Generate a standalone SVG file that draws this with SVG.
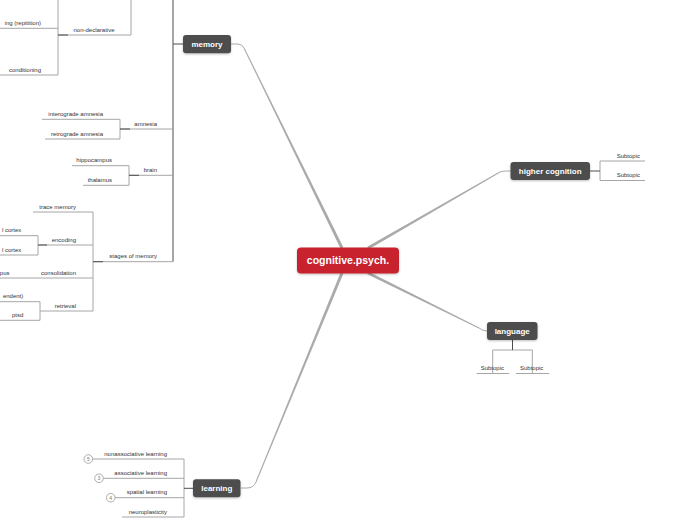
<svg xmlns="http://www.w3.org/2000/svg" width="697" height="520" viewBox="0 0 697 520">
<style>
.bg{fill:#ffffff}
.t{font-family:"Liberation Sans",Arial,sans-serif;font-size:6px;fill:#333333}
.e{text-anchor:end}
.nt{font-family:"Liberation Sans",Arial,sans-serif;font-size:8px;font-weight:bold;fill:#ffffff;text-anchor:middle}
.ct{font-family:"Liberation Sans",Arial,sans-serif;font-size:10.5px;font-weight:bold;fill:#ffffff;text-anchor:middle}
.ln{stroke:#a6a6a6;stroke-width:1;fill:none}
.dk{stroke:#4d4d4d;stroke-width:1;fill:none}
.br{fill:#aaaaaa;stroke:none}
.bc{stroke:#aaaaaa;stroke-width:1;fill:none}
.nd{fill:#4d4d4d}
.cn{fill:#c8202f}
.num{fill:#ffffff;stroke:#999999;stroke-width:0.8}
.nn{font-family:"Liberation Sans",Arial,sans-serif;font-size:5px;fill:#777777;text-anchor:middle}
</style>
<defs>
<filter id="sh" x="-20%" y="-30%" width="140%" height="170%">
<feDropShadow dx="0" dy="1" stdDeviation="0.8" flood-color="#000000" flood-opacity="0.25"/>
</filter>
</defs>
<rect class="bg" x="0" y="0" width="697" height="520"/>

<g id="connectors">
<!-- main branches -->
<polygon class="br" points="343.35,247.34 244.45,47.78 243.55,48.22 340.65,248.66"/>
<path class="bc" d="M231,44 L238,44 Q242,44 244,48"/>
<polygon class="br" points="343.39,273.57 256.46,482.19 255.54,481.81 340.61,272.43"/>
<path class="bc" d="M256,482 Q253.5,488 247,488 L241,488"/>
<polygon class="br" points="368.75,249.3 500.25,172.43 499.75,171.57 367.25,246.7"/>
<path class="bc" d="M500,172 Q503,171 506,171 L510.5,171"/>
<polygon class="br" points="367.33,274.34 478.78,328.45 479.22,327.55 368.67,271.66"/>
<path class="bc" d="M479,328 Q483,331 487,331"/>

<!-- memory spine -->
<path class="dk" d="M173,0 V261.7 M173,44 H183"/>
<!-- non-declarative -->
<path class="ln" d="M58,35 H131 V0 M58,0 V75 M0,28.3 H58 M0,75 H58"/>
<path class="dk" d="M58,35 H68"/>
<!-- amnesia -->
<path class="ln" d="M120,129 H173 M120,119.3 V139 M42,119.3 H120 M45,139 H120"/>
<path class="dk" d="M120,129 H130"/>
<!-- brain -->
<path class="ln" d="M129,175.3 H173 M129,165.7 V185.3 M72,165.7 H129 M83,185.3 H129"/>
<path class="dk" d="M129,175.3 H139"/>
<!-- stages of memory -->
<path class="ln" d="M93,261.7 H173 M93,212 V311 M33,212 H93 M38,245 H93 M0,278 H93 M40,311 H93"/>
<path class="dk" d="M93,261.7 H103"/>
<path class="ln" d="M38,235.7 V255 M0,235.7 H38 M0,255 H38"/>
<path class="dk" d="M38,245 H47"/>
<path class="ln" d="M40,301.7 V320.3 M0,301.7 H40 M0,320.3 H40"/>
<!-- higher cognition -->
<path class="ln" d="M600,161 V180.5 M600,161 H645 M600,180.5 H645"/>
<path class="dk" d="M590,171 H600"/>
<!-- language -->
<path class="ln" d="M492.7,350 H532.3 M492.7,350 V373.5 M532.3,350 V373.5 M476.7,373.5 H509.3 M516,373.5 H549.3"/>
<path class="dk" d="M512.5,340 V350"/>
<!-- learning -->
<path class="ln" d="M184,459 V517 M92.6,459 H184 M103.3,478.3 H184 M115,497.7 H184 M122,517 H184"/>
<path class="dk" d="M184,488.3 H193"/>
</g>

<g id="central">
<rect class="cn" x="297" y="247.5" width="102" height="26" rx="4" filter="url(#sh)"/>
<text class="ct" x="348" y="264.3">cognitive.psych.</text>
</g>

<g id="memory">
<rect class="nd" x="183" y="35" width="48" height="18.3" rx="3" filter="url(#sh)"/>
<text class="nt" x="207" y="47">memory</text>
</g>

<g id="higher-cognition">
<rect class="nd" x="510.5" y="162" width="79.5" height="18" rx="3" filter="url(#sh)"/>
<text class="nt" x="550.2" y="174">higher cognition</text>
</g>

<g id="language">
<rect class="nd" x="487" y="322" width="50.5" height="18" rx="3" filter="url(#sh)"/>
<text class="nt" x="512.2" y="334">language</text>
</g>

<g id="learning">
<rect class="nd" x="193" y="479.3" width="47.5" height="18" rx="3" filter="url(#sh)"/>
<text class="nt" x="216.8" y="491.3">learning</text>
</g>

<g id="memory-children">
<text class="t e" x="41" y="25">ing (repitition)</text>
<text class="t e" x="114.5" y="31.5">non-declarative</text>
<text class="t e" x="41" y="71.5">conditioning</text>
<text class="t e" x="103" y="115.8">interograde amnesia</text>
<text class="t e" x="103" y="135.5">retrograde amnesia</text>
<text class="t e" x="157" y="125.5">amnesia</text>
<text class="t e" x="112" y="162.2">hippocampus</text>
<text class="t e" x="112" y="181.8">thalamus</text>
<text class="t e" x="157" y="171.8">brain</text>
<text class="t e" x="76" y="208.5">trace memory</text>
<text class="t e" x="21.3" y="232.2">l cortex</text>
<text class="t e" x="76" y="241.5">encoding</text>
<text class="t e" x="21.3" y="251.5">l cortex</text>
<text class="t e" x="9.5" y="274.5">pus</text>
<text class="t e" x="76" y="274.5">consolidation</text>
<text class="t e" x="23.3" y="298.2">endent)</text>
<text class="t e" x="76" y="307.5">retrieval</text>
<text class="t e" x="23.3" y="316.8">ptsd</text>
<text class="t e" x="157" y="258.2">stages of memory</text>
</g>

<g id="higher-cognition-children">
<text class="t" x="616.7" y="157.5">Subtopic</text>
<text class="t" x="616.7" y="177">Subtopic</text>
</g>

<g id="language-children">
<text class="t" x="480.7" y="370.3">Subtopic</text>
<text class="t" x="520" y="370.3">Subtopic</text>
</g>

<g id="learning-children">
<text class="t e" x="167" y="455.5">nonassociative learning</text>
<text class="t e" x="167" y="474.8">associative learning</text>
<text class="t e" x="167" y="494.2">spatial learning</text>
<text class="t e" x="167" y="513.5">neuroplasticity</text>
<circle class="num" cx="88.3" cy="459" r="4.3"/>
<text class="nn" x="88.3" y="460.8">5</text>
<circle class="num" cx="99" cy="478.3" r="4.3"/>
<text class="nn" x="99" y="480.1">3</text>
<circle class="num" cx="110.7" cy="497.7" r="4.3"/>
<text class="nn" x="110.7" y="499.5">4</text>
</g>
</svg>
